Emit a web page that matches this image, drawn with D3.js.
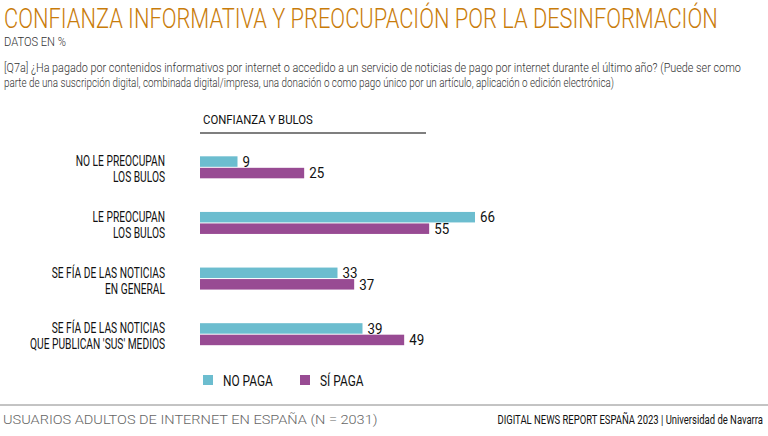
<!DOCTYPE html>
<html><head><meta charset="utf-8">
<script src="https://cdn.jsdelivr.net/npm/d3@7"></script>
<style>
body{margin:0;background:#fff;}
text{font-family:"Roboto","Liberation Sans",sans-serif;}
</style></head>
<body>
<svg id="c" width="768" height="436"></svg>
<script>
const categories = [["NO LE PREOCUPAN","LOS BULOS"],["LE PREOCUPAN","LOS BULOS"],["SE FÍA DE LAS NOTICIAS","EN GENERAL"],["SE FÍA DE LAS NOTICIAS","QUE PUBLICAN 'SUS' MEDIOS"]];
const noPaga = [9, 66, 33, 39];
const siPaga = [25, 55, 37, 49];
const seriesNames = ["NO PAGA", "SÍ PAGA"];
const colors = ["#6cbdcf", "#984b93"];

const svg = d3.select("#c");
const W = 768, H = 436;

// condensed text: horizontal scale f, or fitted to width w
function ctext(parent, x, y, str, o) {
  const gg = parent.append("g").attr("transform", `translate(${x},${y})`);
  const t = gg.append("text").attr("x",0).attr("y",0)
    .attr("text-anchor", o.anchor || "start")
    .attr("font-size", o.size).attr("font-weight", o.weight || 400)
    .attr("fill", o.fill || "#111").text(str);
  const L = t.node().getComputedTextLength();
  const s = o.w != null ? o.w / L : (o.f || 1);
  gg.attr("transform", `translate(${x},${y}) scale(${s},1)`);
  return t;
}

ctext(svg, 4, 28, "CONFIANZA INFORMATIVA Y PREOCUPACIÓN POR LA DESINFORMACIÓN",
  {size:27, weight:300, fill:"#c97c0a", w:714});
ctext(svg, 4, 46, "DATOS EN %", {size:12.5, weight:300, fill:"#333", w:62});
ctext(svg, 4, 72, "[Q7a] ¿Ha pagado por contenidos informativos por internet o accedido a un servicio de noticias de pago por internet durante el último año? (Puede ser como",
  {size:12, weight:300, fill:"#333", w:738});
ctext(svg, 4, 87, "parte de una suscripción digital, combinada digital/impresa, una donación o como pago único por un artículo, aplicación o edición electrónica)",
  {size:12, weight:300, fill:"#333", w:611});

ctext(svg, 203, 124, "CONFIANZA Y BULOS", {size:13.5, weight:400, fill:"#111", w:110});
svg.append("line").attr("x1",200).attr("x2",426).attr("y1",133).attr("y2",133)
  .attr("stroke","#555").attr("stroke-width",1.5);

const x = d3.scaleLinear().domain([0,66]).range([200,475]);
const y = d3.scaleBand().domain(d3.range(categories.length)).range([139.5,362]).paddingInner(0.6).paddingOuter(0.3);
const bh = 10.5;

const g = svg.append("g");
categories.forEach((c,i)=>{
  const cy = y(i) + y.bandwidth()/2;
  c.forEach((line,j)=>{
    ctext(g, 165, cy-1+j*16, line, {size:14, weight:400, anchor:"end", f:0.73});
  });
  [noPaga[i], siPaga[i]].forEach((v,k)=>{
    const y0 = k===0 ? cy - bh - 0.5 : cy + 0.5;
    g.append("rect").attr("x",x(0)).attr("y",y0).attr("width",x(v)-x(0)).attr("height",bh)
      .attr("fill",colors[k]);
    ctext(g, x(v)+5, y0+bh, String(v), {size:14.5, weight:400, f:0.92});
  });
});

const lg = svg.append("g");
seriesNames.forEach((s,k)=>{
  const lx = 203 + k*97;
  lg.append("rect").attr("x",lx).attr("y",375).attr("width",10).attr("height",10).attr("fill",colors[k]);
  ctext(lg, lx+20, 385.5, s, {size:14, weight:400, f:0.85});
});

svg.append("line").attr("x1",0).attr("x2",W).attr("y1",405).attr("y2",405).attr("stroke","#888").attr("stroke-width",1);
ctext(svg, 3, 424, "USUARIOS ADULTOS DE INTERNET EN ESPAÑA (N = 2031)", {size:13.5, weight:300, fill:"#666", w:375});
ctext(svg, 763, 424, "DIGITAL NEWS REPORT ESPAÑA 2023 | Universidad de Navarra", {size:12, weight:400, fill:"#111", anchor:"end", w:266});
</script>
</body></html>
